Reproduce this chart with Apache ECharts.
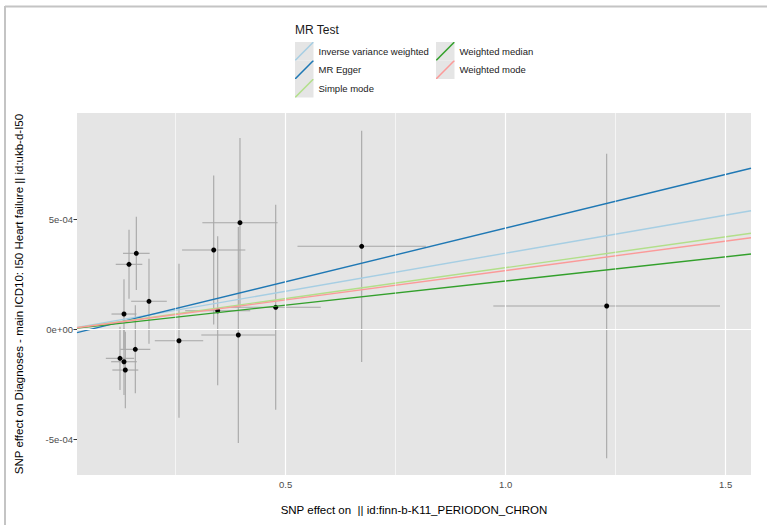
<!DOCTYPE html>
<html>
<head>
<meta charset="utf-8">
<script src="https://cdn.jsdelivr.net/npm/echarts@6/dist/echarts.min.js"></script>
<style>
  html, body { margin: 0; padding: 0; background: #ffffff; }
  #chart { width: 767px; height: 525px; }
</style>
</head>
<body>
<div id="chart"></div>
<script>
// Per-SNP effects on the exposure (x) and on the outcome (y), with standard errors
const snpBetaExposure = [0.3961, 0.3364, 0.3455, 0.3923, 0.4773, 0.1893, 0.1605, 0.1439,
                         0.1325, 0.1582, 0.1234, 0.1325, 0.1355, 0.2575, 0.6727, 1.2295];
const snpSeExposure   = [0.0855, 0.0719, 0.0739, 0.0841, 0.1023, 0.0405, 0.0303, 0.0302,
                         0.0284, 0.0341, 0.0322, 0.0292, 0.0295, 0.0550, 0.1459, 0.2576];
const snpBetaOutcome  = [4.845e-4, 3.604e-4, 0.845e-4, -0.259e-4, 1.000e-4, 1.273e-4, 3.454e-4, 2.954e-4,
                         0.695e-4, -0.909e-4, -1.318e-4, -1.473e-4, -1.850e-4, -0.518e-4, 3.773e-4, 1.059e-4];
const snpSeOutcome    = [3.850e-4, 3.386e-4, 3.386e-4, 4.910e-4, 4.660e-4, 1.930e-4, 1.666e-4, 1.568e-4,
                         1.580e-4, 2.000e-4, 1.440e-4, 1.510e-4, 1.740e-4, 3.500e-4, 5.256e-4, 6.915e-4];

// Fitted MR estimates (slope and intercept of each method's line)
const methodNames      = ['Inverse variance weighted', 'MR Egger', 'Simple mode', 'Weighted median', 'Weighted mode'];
const methodSlopes     = [3.461e-4, 4.875e-4, 2.801e-4, 2.197e-4, 2.673e-4];
const methodIntercepts = [0, -0.275e-4, 0, 0, 0];
const methodColors     = ['#a6cee3', '#1f78b4', '#b2df8a', '#33a02c', '#fb9a99'];

// Axis ranges, ticks and grid lines
const xRange = [0.0257, 1.5575];
const yRange = [-6.62e-4, 9.83e-4];
const xTicks = [0.5, 1.0, 1.5];
const xTickLabels = ['0.5', '1.0', '1.5'];
const xMinorTicks = [0.25, 0.75, 1.25];
const yTicks = [-5e-4, 0, 5e-4];
const yTickLabels = ['-5e-04', '0e+00', '5e-04'];
const yMinorTicks = [-2.5e-4, 2.5e-4, 7.5e-4];

const FONT = '"Liberation Sans", Arial, sans-serif';

function labelFor(values, labels) {
  return function (v) {
    for (let i = 0; i < values.length; i++) {
      if (Math.abs(values[i] - v) < 1e-9) return labels[i];
    }
    return '';
  };
}

const errorData = snpBetaExposure.map((x, i) => [x, snpBetaOutcome[i], snpSeExposure[i], snpSeOutcome[i]]);
const pointData = snpBetaExposure.map((x, i) => [x, snpBetaOutcome[i]]);

const gridLines = [];
xMinorTicks.forEach(v => gridLines.push({ xAxis: v, lineStyle: { color: '#ffffff', width: 0.6, type: 'solid' } }));
yMinorTicks.forEach(v => gridLines.push({ yAxis: v, lineStyle: { color: '#ffffff', width: 0.6, type: 'solid' } }));
xTicks.forEach(v => gridLines.push({ xAxis: v, lineStyle: { color: '#ffffff', width: 1.2, type: 'solid' } }));
yTicks.forEach(v => gridLines.push({ yAxis: v, lineStyle: { color: '#ffffff', width: 1.2, type: 'solid' } }));

const methodSeries = methodNames.map((name, i) => ({
  name: name,
  type: 'line',
  z: 4,
  showSymbol: false,
  symbol: 'none',
  silent: true,
  color: methodColors[i],
  lineStyle: { color: methodColors[i], width: 1.4 },
  itemStyle: { color: methodColors[i] },
  data: xRange.map(x => [x, methodIntercepts[i] + methodSlopes[i] * x])
}));

// Diagonal stroke used as the legend key
const keyIcon = 'path://M0,100 L0,94 L94,0 L100,0 L100,6 L6,100 Z';

const legendBase = {
  orient: 'vertical',
  top: 42,
  padding: 0,
  itemWidth: 18.5,
  itemHeight: 18.5,
  itemGap: 0,
  icon: keyIcon,
  selectedMode: false,
  textStyle: { fontSize: 9.5, color: '#1a1a1a', fontFamily: FONT }
};

const keyBoxes = [[295, 42], [295, 60.5], [295, 79], [436, 42], [436, 60.5]].map(p => ({
  type: 'rect',
  z: 0,
  shape: { x: p[0], y: p[1], width: 18.5, height: 18.5 },
  style: { fill: '#e5e5e5' }
}));

const chart = echarts.init(document.getElementById('chart'), null, { renderer: 'svg' });

chart.setOption({
  animation: false,
  backgroundColor: '#ffffff',
  title: {
    text: 'MR Test',
    left: 295,
    top: 24,
    padding: 0,
    textStyle: { fontSize: 12, fontWeight: 'normal', color: '#1a1a1a', fontFamily: FONT }
  },
  legend: [
    Object.assign({}, legendBase, { left: 295, data: methodNames.slice(0, 3) }),
    Object.assign({}, legendBase, { left: 436, data: methodNames.slice(3) })
  ],
  graphic: keyBoxes.concat([
    { type: 'line', z: 0, shape: { x1: 5, y1: 6.5, x2: 767, y2: 6.5 }, style: { stroke: '#c4c4c4', lineWidth: 2 } },
    { type: 'line', z: 0, shape: { x1: 5, y1: 6, x2: 5, y2: 525 }, style: { stroke: '#c4c4c4', lineWidth: 2 } }
  ]),
  grid: {
    left: 77, right: 16, top: 113, bottom: 50,
    show: true, backgroundColor: '#e5e5e5', borderWidth: 0
  },
  xAxis: {
    type: 'value',
    min: xRange[0],
    max: xRange[1],
    axisLine: { show: false },
    splitLine: { show: false },
    axisTick: { show: true, customValues: xTicks, length: 3.5, lineStyle: { color: '#333333', width: 1 } },
    axisLabel: {
      customValues: xTicks, formatter: labelFor(xTicks, xTickLabels),
      margin: 4, fontSize: 9.5, color: '#4d4d4d', fontFamily: FONT
    },
    name: 'SNP effect on  || id:finn-b-K11_PERIODON_CHRON',
    nameLocation: 'middle',
    nameGap: 29,
    nameTextStyle: { fontSize: 11.5, color: '#000000', fontFamily: FONT }
  },
  yAxis: {
    type: 'value',
    min: yRange[0],
    max: yRange[1],
    axisLine: { show: false },
    splitLine: { show: false },
    axisTick: { show: true, customValues: yTicks, length: 3.5, lineStyle: { color: '#333333', width: 1 } },
    axisLabel: {
      customValues: yTicks, formatter: labelFor(yTicks, yTickLabels),
      margin: 4, fontSize: 9.5, color: '#4d4d4d', fontFamily: FONT
    },
    name: 'SNP effect on Diagnoses - main ICD10: I50 Heart failure || id:ukb-d-I50',
    nameLocation: 'middle',
    nameGap: 52,
    nameTextStyle: { fontSize: 11.5, color: '#000000', fontFamily: FONT }
  },
  series: [
    {
      name: 'panel grid',
      type: 'line',
      z: 1,
      data: [],
      silent: true,
      markLine: {
        silent: true,
        symbol: ['none', 'none'],
        label: { show: false },
        emphasis: { disabled: true },
        data: gridLines
      }
    },
    {
      name: 'error bars',
      type: 'custom',
      z: 2,
      silent: true,
      clip: true,
      encode: { x: 0, y: 1 },
      data: errorData,
      renderItem: function (params, api) {
        const x = api.value(0), y = api.value(1), sx = api.value(2), sy = api.value(3);
        const h1 = api.coord([x - sx, y]), h2 = api.coord([x + sx, y]);
        const v1 = api.coord([x, y - sy]), v2 = api.coord([x, y + sy]);
        const style = { stroke: '#a6a6a6', lineWidth: 1.1, fill: null };
        return {
          type: 'group',
          children: [
            { type: 'line', shape: { x1: h1[0], y1: h1[1], x2: h2[0], y2: h2[1] }, style: style },
            { type: 'line', shape: { x1: v1[0], y1: v1[1], x2: v2[0], y2: v2[1] }, style: style }
          ]
        };
      }
    },
    {
      name: 'SNPs',
      type: 'scatter',
      z: 3,
      silent: true,
      symbolSize: 5,
      itemStyle: { color: '#000000', opacity: 1 },
      data: pointData
    }
  ].concat(methodSeries)
});
</script>
</body>
</html>
